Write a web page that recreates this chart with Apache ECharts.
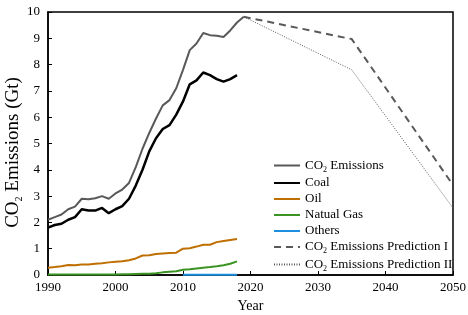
<!DOCTYPE html>
<html>
<head>
<meta charset="utf-8">
<script src="https://cdn.jsdelivr.net/npm/echarts@6/dist/echarts.min.js"></script>
<style>
  html, body { margin: 0; padding: 0; background: #fff; }
  #chart { width: 468px; height: 315px; }
</style>
</head>
<body>
<div id="chart"></div>
<script>
// yearly values, Gt
var years = [1990, 1991, 1992, 1993, 1994, 1995, 1996, 1997, 1998, 1999,
  2000, 2001, 2002, 2003, 2004, 2005, 2006, 2007, 2008, 2009,
  2010, 2011, 2012, 2013, 2014, 2015, 2016, 2017, 2018, 2019]
var co2 = [2.1, 2.2, 2.3, 2.5, 2.6, 2.9, 2.88, 2.92, 3.0, 2.9,
  3.1, 3.25, 3.5, 4.1, 4.8, 5.4, 5.95, 6.45, 6.65, 7.1,
  7.8, 8.55, 8.8, 9.2, 9.12, 9.1, 9.05, 9.3, 9.6, 9.82]
var coal = [1.8, 1.9, 1.95, 2.1, 2.2, 2.5, 2.45, 2.45, 2.55, 2.35,
  2.5, 2.62, 2.9, 3.4, 4.0, 4.7, 5.2, 5.55, 5.7, 6.1,
  6.6, 7.25, 7.4, 7.7, 7.6, 7.45, 7.35, 7.45, 7.6]
var oil = [0.28, 0.3, 0.33, 0.38, 0.37, 0.4, 0.4, 0.43, 0.45, 0.48,
  0.5, 0.52, 0.56, 0.63, 0.74, 0.75, 0.8, 0.82, 0.84, 0.85,
  1.0, 1.02, 1.08, 1.15, 1.15, 1.25, 1.29, 1.33, 1.37]
var gas = [0.02, 0.02, 0.02, 0.02, 0.02, 0.02, 0.02, 0.02, 0.02, 0.02,
  0.02, 0.03, 0.03, 0.04, 0.05, 0.05, 0.07, 0.1, 0.12, 0.14,
  0.2, 0.22, 0.25, 0.28, 0.3, 0.33, 0.37, 0.43, 0.52]
var othersYears = [2010, 2011, 2012, 2013, 2014, 2015, 2016, 2017, 2018]
var others = [0.01, 0.01, 0.01, 0.01, 0.01, 0.01, 0.01, 0.01, 0.01]
var predYears = [2019, 2035, 2050]
var pred1 = [9.82, 8.97, 3.42]
var pred2 = [9.82, 7.8, 2.55]

function pairs(xs, ys) {
  return ys.map(function (v, i) { return [xs[i], v] })
}

var font = 'Liberation Serif, Times New Roman, serif'
var rich = {
  a: { fontFamily: font, fontSize: 13, color: '#000', lineHeight: 16 },
  s: { fontFamily: font, fontSize: 8, color: '#000', lineHeight: 16, verticalAlign: 'bottom', padding: [6, 0, 0, 0] }
}
var titleRich = {
  a: { fontFamily: font, fontSize: 19, color: '#000', lineHeight: 21 },
  s: { fontFamily: font, fontSize: 10, color: '#000', lineHeight: 21, verticalAlign: 'bottom', padding: [8, 0, 0, 0] }
}

function sub(name) {
  // turn "CO2" into CO + subscript 2
  return name.split('CO2').map(function (p) {
    return p ? '{a|' + p + '}' : ''
  }).join('{a|CO}{s|2}')
}

var chart = echarts.init(document.getElementById('chart'))

function lineSeries(name, data, color, width, type) {
  return {
    name: name,
    type: 'line',
    data: data,
    symbol: 'none',
    animation: false,
    lineStyle: { color: color, width: width, type: type || 'solid' },
    itemStyle: { color: color }
  }
}

var option = {
  backgroundColor: '#fff',
  grid: {
    left: 48, right: 15, top: 12, bottom: 40,
    outerBoundsMode: 'none',
    show: true, borderColor: '#000', borderWidth: 1.5
  },
  legend: {
    orient: 'vertical',
    left: 268, top: 154,
    itemWidth: 26, itemHeight: 10, itemGap: 3,
    itemStyle: { opacity: 0 },
    formatter: sub,
    textStyle: { rich: rich },
    data: ['CO2 Emissions', 'Coal', 'Oil', 'Natual Gas', 'Others',
      'CO2 Emissions Prediction I', 'CO2 Emissions Prediction II']
  },
  xAxis: {
    type: 'value',
    min: 1990, max: 2050, interval: 10,
    name: 'Year', nameLocation: 'middle', nameGap: 20,
    nameTextStyle: { fontFamily: font, fontSize: 14, color: '#000' },
    axisLine: { lineStyle: { color: '#000', width: 1.5 } },
    axisTick: { inside: true, length: 4, lineStyle: { color: '#000' } },
    axisLabel: {
      fontFamily: font, fontSize: 13, color: '#000', margin: 6,
      formatter: function (v) { return String(v) }
    },
    splitLine: { show: false }
  },
  yAxis: {
    type: 'value',
    min: 0, max: 10, interval: 1,
    name: '{a|CO}{s|2}{a| Emissions (Gt)}', nameLocation: 'middle', nameGap: 24,
    nameMoveOverlap: false,
    nameRotate: 90,
    nameTextStyle: { rich: titleRich, padding: [0, 18, 0, 0] },
    axisLine: { show: true, lineStyle: { color: '#000', width: 1.5 } },
    axisTick: { show: true, inside: true, length: 4, lineStyle: { color: '#000' } },
    axisLabel: { fontFamily: font, fontSize: 13, color: '#000', margin: 8 },
    splitLine: { show: false }
  },
  series: [
    lineSeries('CO2 Emissions', pairs(years, co2), '#595959', 2),
    lineSeries('Coal', pairs(years, coal), '#000000', 2.5),
    lineSeries('Oil', pairs(years, oil), '#BF6F00', 2),
    lineSeries('Natual Gas', pairs(years, gas), '#3A9323', 2),
    lineSeries('Others', pairs(othersYears, others), '#1E8FE0', 2),
    lineSeries('CO2 Emissions Prediction I', pairs(predYears, pred1), '#595959', 2, [7, 5]),
    lineSeries('CO2 Emissions Prediction II', pairs(predYears, pred2), '#595959', 1, [1, 1.5])
  ]
}

chart.setOption(option)
</script>
</body>
</html>
